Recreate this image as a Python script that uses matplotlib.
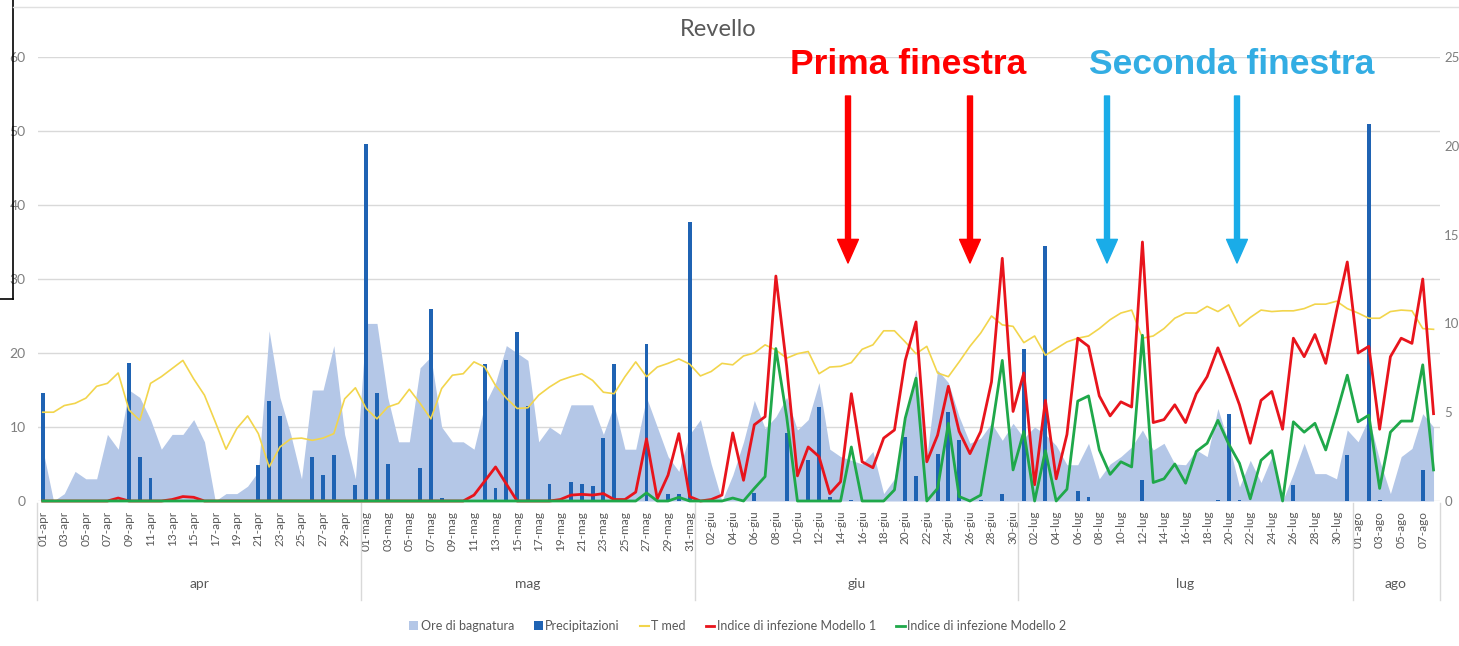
import matplotlib
matplotlib.use('Agg')
import matplotlib.pyplot as plt
import numpy as np
from matplotlib.lines import Line2D
from matplotlib.patches import Patch
import matplotlib.transforms as mtransforms

plt.rcParams['font.family'] = ['Lato', 'DejaVu Sans']

# ---------------- data ----------------
month_names = ['apr', 'mag', 'giu', 'lug', 'ago']
month_days = [30, 31, 30, 31, 8]
day_labels = [f"{d:02d}-{m}" for m, n in zip(month_names, month_days) for d in range(1, n + 1)]

ore_bagnatura = [
    7, 0, 1, 4, 3, 3, 9, 7, 15, 14,
    11, 7, 9, 9, 11, 8, 0, 1, 1, 2,
    4, 23, 14, 9, 3, 15, 15, 21, 9, 3,
    24, 24, 14, 8, 8, 18, 19.5, 10, 8, 8,
    7, 13, 16, 21, 20, 19, 8, 10, 9, 13,
    13, 13, 9, 13, 7, 7, 14, 10, 6, 4,
    9, 11, 5, 0, 3.5, 8, 13.6, 9.8, 11.4, 14,
    9.6, 11, 16, 7, 6, 5.5, 5, 6.7, 1, 3,
    11, 17.7, 6, 17.7, 16, 11.4, 7.8, 8.5, 10.5, 8.2,
    10.5, 8.5, 10, 9, 7.5, 4.9, 4.9, 7.8, 3, 5,
    6, 7.3, 9.6, 6.9, 7.8, 5, 4.9, 6.9, 6, 12.5,
    7.8, 1.9, 5.5, 2.5, 6, 0, 3.7, 7.8, 3.7, 3.7,
    3, 9.6, 8, 11.2, 5.5, 1, 6, 7.1, 11.8, 10,
]

precipitazioni = [
    14.6, 0, 0, 0, 0, 0, 0, 0, 18.6, 6,
    3.1, 0, 0, 0, 0, 0, 0, 0, 0, 0,
    4.8, 13.5, 11.5, 0, 0, 5.9, 3.5, 6.2, 0, 2.1,
    48.2, 14.6, 5, 0, 0, 4.5, 25.9, 0.4, 0, 0,
    0, 18.5, 1.7, 19.1, 22.8, 12.9, 0, 2.3, 0, 2.6,
    2.3, 2, 8.5, 18.5, 0, 0, 21.2, 0, 1, 1,
    37.7, 0, 0, 0, 0, 0, 1.1, 0, 0, 9.2,
    0, 5.6, 12.7, 0.6, 0, 0.2, 0, 0, 0, 0,
    8.6, 3.4, 0, 6.4, 12, 8.2, 0, 0.2, 0, 0.9,
    0, 20.5, 0, 34.4, 0, 0, 1.3, 0.6, 0, 0,
    0, 0, 2.9, 0, 0, 0, 0, 0, 0, 0.2,
    11.8, 0.2, 0, 0, 0, 0, 2.2, 0, 0, 0,
    0, 6.2, 0, 50.9, 0.1, 0, 0, 0, 4.2, 0,
]

t_med = [
    12, 12, 12.9, 13.2, 13.9, 15.5, 15.9, 17.3, 12.3, 10.9,
    15.9, 16.8, 17.9, 19, 16.5, 14.3, 10.7, 7, 9.8, 11.5,
    9.1, 4.6, 7.3, 8.4, 8.5, 8.2, 8.5, 9.1, 13.8, 15.3,
    12.5, 11.1, 12.7, 13.2, 15.1, 13.2, 11.1, 15.2, 17, 17.2,
    18.8, 18.1, 15.6, 13.9, 12.5, 12.6, 14.3, 15.4, 16.3, 16.8,
    17.2, 16.3, 14.7, 14.5, 16.8, 18.8, 16.8, 18.1, 18.6, 19.2,
    18.5, 16.9, 17.5, 18.6, 18.4, 19.6, 20, 21.1, 20.4, 19.3,
    19.9, 20.2, 17.2, 18.1, 18.2, 18.7, 20.5, 21.1, 23, 23,
    21.5, 19.9, 20.9, 17.3, 16.8, 18.8, 20.9, 22.7, 25, 23.8,
    23.6, 21.4, 22.3, 19.7, 20.6, 21.5, 22, 22.3, 23.3, 24.5,
    25.4, 25.8, 22, 22.3, 23.3, 24.7, 25.4, 25.4, 26.3, 25.6,
    26.5, 23.6, 24.8, 25.8, 25.6, 25.7, 25.7, 26, 26.6, 26.6,
    27, 26, 25.4, 24.7, 24.7, 25.6, 25.8, 25.7, 23.3, 23.2,
]

indice_modello_1 = [
    0, 0, 0, 0, 0, 0, 0, 0.4, 0, 0,
    0, 0, 0.2, 0.6, 0.5, 0, 0, 0, 0, 0,
    0, 0, 0, 0, 0, 0, 0, 0, 0, 0,
    0, 0, 0, 0, 0, 0, 0, 0, 0, 0,
    0.8, 2.7, 4.6, 2.3, 0, 0, 0, 0, 0.2, 0.8,
    0.9, 0.8, 1, 0.2, 0.2, 1.2, 8.4, 0.3, 3.5, 9.1,
    0.6, 0, 0.2, 0.8, 9.2, 2.8, 10.3, 11.4, 30.4, 18.2,
    3.4, 7.3, 6, 1, 2.6, 14.5, 5.3, 4.5, 8.5, 9.6,
    19, 24.2, 5.3, 8.9, 15.5, 9.4, 6.4, 9.4, 16.1, 32.8,
    12.1, 17.3, 2.2, 13.6, 3, 9, 22, 20.9, 14.2, 11.5,
    13.4, 12.7, 35, 10.6, 11, 13, 10.6, 14.5, 16.8, 20.7,
    17, 13, 7.8, 13.6, 14.8, 9.7, 22, 19.5, 22.5, 18.6,
    25.7, 32.3, 20, 20.9, 9.7, 19.5, 22, 21.3, 30, 11.8,
]

indice_modello_2 = [
    0, 0, 0, 0, 0, 0, 0, 0, 0, 0,
    0, 0, 0, 0, 0, 0, 0, 0, 0, 0,
    0, 0, 0, 0, 0, 0, 0, 0, 0, 0,
    0, 0, 0, 0, 0, 0, 0, 0, 0, 0,
    0, 0, 0, 0, 0, 0, 0, 0, 0, 0,
    0, 0, 0, 0, 0, 0, 1.1, 0, 0, 0.5,
    0, 0, 0, 0, 0.4, 0, 1.7, 3.3, 20.6, 11.4,
    0, 0, 0, 0, 0, 7.3, 0, 0, 0, 1.5,
    11.2, 16.6, 0, 1.7, 10.5, 0.6, 0, 0.8, 9.4, 19,
    4.2, 9.4, 0, 6.8, 0, 1.6, 13.5, 14.2, 6.9, 3.6,
    5.3, 4.6, 22.4, 2.5, 3, 5, 2.4, 6.7, 7.8, 10.9,
    7.7, 5.1, 0.3, 5.5, 6.8, 0, 10.7, 9.3, 10.5, 6.9,
    11.8, 17, 10.7, 11.6, 1.7, 9.3, 10.8, 10.8, 18.4, 4.2,
]

legend_labels = ['Ore di bagnatura', 'Precipitazioni', 'T med',
                 'Indice di infezione Modello 1', 'Indice di infezione Modello 2']

# ---------------- styles ----------------
C_AREA = '#B4C7E7'
C_BAR = '#1F63B3'
C_T = '#F2D54C'
C_M1 = '#E8141C'
C_M2 = '#1FA84A'
C_TXT = '#595959'
C_GRID = '#D9D9D9'

W, H = 1459, 646
fig = plt.figure(figsize=(W / 100, H / 100), dpi=100)
ax = fig.add_axes([38 / W, 145 / H, 1402 / W, 444 / H])

x = np.arange(len(day_labels))
ax.fill_between(x, 0, ore_bagnatura, color=C_AREA, lw=0, zorder=1)
ax.bar(x, precipitazioni, width=0.36, color=C_BAR, zorder=2)
ax.plot(x, t_med, color=C_T, lw=1.2, zorder=3)
ax.plot(x, indice_modello_1, color=C_M1, lw=2, zorder=4, clip_on=False)
ax.plot(x, indice_modello_2, color=C_M2, lw=2, zorder=5, clip_on=False)

ax.set_xlim(-0.44, 129.6)
ax.set_ylim(0, 60)
ax.set_yticks(range(0, 61, 10))
ax.yaxis.grid(True, color=C_GRID, lw=1)
ax.set_axisbelow(True)
for s in ax.spines.values():
    s.set_visible(False)
ax.tick_params(axis='y', length=0, labelsize=10, labelcolor='#7F7F7F', pad=9)
ax.set_xticks(x[::2])
ax.set_xticklabels(day_labels[::2], rotation=90, fontsize=8.5, color=C_TXT)
ax.tick_params(axis='x', length=0, pad=7)

ax2 = ax.twinx()
ax2.set_ylim(0, 25)
ax2.set_yticks(range(0, 26, 5))
for s in ax2.spines.values():
    s.set_visible(False)
ax2.tick_params(axis='y', length=0, labelsize=9.5, labelcolor='#7F7F7F', pad=3)

# month group labels and separators
trans = mtransforms.blended_transform_factory(ax.transData, ax.transAxes)
def fy(ypix):
    return ((H - ypix) / H - 145 / H) / (444 / H)
start = 0
bounds = [-0.53]
for m, n in zip(month_names, month_days):
    ax.text(start + (n - 1) / 2, fy(584), m, transform=trans, ha='center', va='center',
            fontsize=10, color=C_TXT)
    start += n
    bounds.append(start - 0.5 if start < len(day_labels) else 129.6)
for b in bounds:
    ax.plot([b, b], [fy(503), fy(600)], transform=trans, color='#D9D9D9', lw=1, clip_on=False)

# title
fig.text(718 / W, 1 - 30 / H, 'Revello', ha='center', va='center', fontsize=17, color=C_TXT)

# annotations
fig.text(908 / W, 1 - 65 / H, 'Prima finestra', ha='center', va='center', fontsize=25.5,
         fontweight='bold', color='#FF0000', family='Liberation Sans')
fig.text(1232 / W, 1 - 65 / H, 'Seconda finestra', ha='center', va='center', fontsize=25.5,
         fontweight='bold', color='#33ADE3', family='Liberation Sans')
for xp, col in [(848, '#FF0000'), (970, '#FF0000'), (1107, '#1AACE8'), (1237, '#1AACE8')]:
    ax.annotate('', xy=(xp, H - 263), xytext=(xp, H - 96), xycoords='figure pixels',
                textcoords='figure pixels',
                arrowprops=dict(width=3.6, headwidth=15, headlength=17, color=col, shrink=0))

# legend
handles = [Patch(facecolor=C_AREA), Patch(facecolor=C_BAR),
           Line2D([], [], color=C_T, lw=1.5), Line2D([], [], color=C_M1, lw=2),
           Line2D([], [], color=C_M2, lw=2)]
fig.legend(handles, legend_labels, loc='center', bbox_to_anchor=(738 / W, 1 - 626 / H),
           ncol=5, frameon=False, fontsize=9, handlelength=0.7, handleheight=0.7,
           handletextpad=0.2, columnspacing=1.6, labelcolor=C_TXT)

# screenshot frame remnants
fig.add_artist(Line2D([13 / W, 13 / W], [1, 1 - 299 / H], transform=fig.transFigure, color='black', lw=1.2))
fig.add_artist(Line2D([0, 13 / W], [1 - 299 / H, 1 - 299 / H], transform=fig.transFigure, color='black', lw=1.2))
fig.add_artist(Line2D([13 / W, 1], [1 - 7 / H, 1 - 7 / H], transform=fig.transFigure, color='#E0E0E0', lw=1))

fig.savefig('out.png', dpi=100)
